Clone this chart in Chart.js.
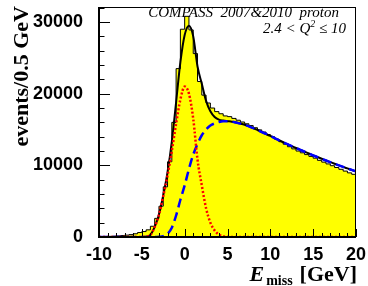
<!DOCTYPE html>
<html>
<head>
<meta charset="utf-8">
<script src="https://cdn.jsdelivr.net/npm/chart.js@4.4.1/dist/chart.umd.min.js"></script>
<style>
html, body { margin: 0; padding: 0; background: #fff; }
#wrap { width: 368px; height: 286px; }
</style>
</head>
<body>
<div id="wrap"><canvas id="c" width="368" height="286"></canvas></div>
<script>
// E_miss grid (GeV): bin edges of the histogram and sample points of the fit curves
const eGrid = [-10, -9.5, -9, -8.5, -8, -7.5, -7, -6.5, -6, -5.5, -5, -4.5, -4, -3.5, -3, -2.5, -2, -1.5, -1, -0.5,
    0, 0.5, 1, 1.5, 2, 2.5, 3, 3.5, 4, 4.5, 5, 5.5, 6, 6.5, 7, 7.5, 8, 8.5, 9, 9.5,
    10, 10.5, 11, 11.5, 12, 12.5, 13, 13.5, 14, 14.5, 15, 15.5, 16, 16.5, 17, 17.5, 18, 18.5, 19, 19.5, 20];

// events per 0.5 GeV bin (60 bins, -10 .. 20)
const histCounts = [
    60, 80, 90, 110, 150, 200, 260, 330, 450, 620,
    760, 1000, 1500, 2600, 4300, 7000, 10500, 16000, 23500, 29000,
    30800, 28900, 25600, 21700, 19800, 18700, 18000, 17500, 17200, 16900,
    16800, 16550, 16300, 16050, 15800, 15550, 15250, 14950, 14650, 14300,
    14000, 13650, 13300, 12950, 12600, 12300, 12000, 11750, 11500, 11250,
    11000, 10700, 10450, 10200, 9950, 9700, 9450, 9200, 8950, 8750
];

// exclusive peak (red dotted)
const signalFit = [
    0, 0, 0, 0, 0, 0, 0, 0, 0, 0, 0,
    50, 300, 1400, 3100, 5700, 8600, 12000, 15800, 19200,
    21000, 20000, 16500, 10800, 7200, 4000, 2000, 900, 330, 100, 20,
    0, 0, 0, 0, 0, 0, 0, 0, 0, 0, 0, 0, 0, 0, 0, 0, 0, 0, 0, 0, 0, 0, 0, 0, 0, 0, 0, 0, 0, 0
];

// non-exclusive background (blue dashed)
const bgFit = [
    0, 0, 0, 0, 0, 0, 0, 0, 0, 0, 0, 0, 0, 0,
    30, 120, 450, 1300, 3000, 5200, 7200, 9500, 11500, 13000, 14200, 15000, 15550, 15850, 16050, 16150,
    16150, 16100, 15980, 15830, 15660, 15440, 15200, 14930, 14650, 14380, 14100, 13800, 13500, 13220,
    12950, 12680, 12420, 12160, 11900, 11650, 11400, 11160, 10920, 10680, 10450, 10220, 10000, 9780,
    9570, 9360, 9150
];

// total fit (black)
const totalFit = [
    0, 0, 0, 0, 0, 0, 0, 0, 0, 0, 0,
    50, 300, 1400, 3130, 5820, 9050, 13300, 18800, 24400,
    28200, 29500, 28000, 23800, 21400, 19000, 17550, 16750, 16380, 16250, 16170,
    16100, 15980, 15830, 15660, 15440, 15200, 14930, 14650, 14380, 14100, 13800, 13500, 13220,
    12950, 12680, 12420, 12160, 11900, 11650, 11400, 11160, 10920, 10680, 10450, 10220, 10000, 9780,
    9570, 9360, 9150
];

const yTicks = [0, 10000, 20000, 30000];
const xTicks = [-10, -5, 0, 5, 10, 15, 20];

function pts(values) {
    return eGrid.map(function (e, i) { return { x: e, y: values[i] }; });
}

const histData = histCounts.map(function (v, i) { return { x: eGrid[i], y: v }; });
histData.push({ x: eGrid[eGrid.length - 1], y: histCounts[histCounts.length - 1] });

const tickFont = { family: 'Liberation Sans', size: 18, weight: 'bold' };

const rootFrame = {
    id: 'rootFrame',
    afterDraw: function (chart) {
        const ctx = chart.ctx;
        const a = chart.chartArea;
        const xs = chart.scales.x, ys = chart.scales.y;
        ctx.save();
        ctx.strokeStyle = '#000';

        // frame
        ctx.lineWidth = 1;
        ctx.strokeRect(a.left + 0.5, a.top + 0.5, a.right - a.left - 1, a.bottom - a.top);
        ctx.lineWidth = 2;
        ctx.beginPath();
        ctx.moveTo(a.left, a.top); ctx.lineTo(a.left, a.bottom); ctx.lineTo(a.right, a.bottom);
        ctx.stroke();

        // inward ticks
        ctx.lineWidth = 1;
        ctx.beginPath();
        for (let v = 0; v <= ys.max; v += 2000) {
            const y = Math.round(ys.getPixelForValue(v)) + 0.5;
            const len = v % 10000 === 0 ? 11 : 5.5;
            ctx.moveTo(a.left, y); ctx.lineTo(a.left + len, y);
        }
        for (let v = xs.min; v <= xs.max; v += 1) {
            const x = Math.round(xs.getPixelForValue(v)) + 0.5;
            const len = v % 5 === 0 ? 8 : 4;
            ctx.moveTo(x, a.bottom); ctx.lineTo(x, a.bottom - len);
        }
        ctx.stroke();

        ctx.fillStyle = '#000';
        ctx.textBaseline = 'alphabetic';

        // y title
        ctx.save();
        ctx.translate(28, 6);
        ctx.rotate(-Math.PI / 2);
        ctx.textAlign = 'right';
        ctx.font = 'bold 22px "Liberation Serif"';
        ctx.fillText('events/0.5 GeV', 0, 0);
        ctx.restore();

        // x title: E_miss [GeV]
        ctx.textAlign = 'left';
        ctx.font = 'bold 22px "Liberation Serif"';
        const gev = '[GeV]';
        const gevX = 357 - ctx.measureText(gev).width;
        ctx.fillText(gev, gevX, 281);
        ctx.font = 'bold 14px "Liberation Serif"';
        const missX = gevX - 7 - ctx.measureText('miss').width;
        ctx.fillText('miss', missX, 285);
        ctx.font = 'italic bold 22px "Liberation Serif"';
        ctx.fillText('E', missX - 2 - ctx.measureText('E').width, 281);

        // legend text top right
        ctx.font = 'italic 15px "Liberation Serif"';
        ctx.textAlign = 'right';
        ctx.fillText('COMPASS  2007&2010  proton', 339, 17);
        ctx.textAlign = 'left';
        const p1 = ' \u2264 10', p0 = '2.4 < ';
        const w1 = ctx.measureText(p1).width;
        const wq = ctx.measureText('Q').width;
        ctx.font = 'italic 10px "Liberation Serif"';
        const w2 = ctx.measureText('2').width;
        let x = 346 - w1;
        ctx.fillText('2', x - w2, 27);
        ctx.font = 'italic 15px "Liberation Serif"';
        ctx.fillText(p1, x, 33);
        x -= w2 + wq;
        ctx.fillText('Q', x, 33);
        ctx.fillText(p0, x - ctx.measureText(p0).width, 33);

        ctx.restore();
    }
};

new Chart(document.getElementById('c'), {
    type: 'line',
    data: {
        datasets: [
            { label: 'signal', data: pts(signalFit), borderColor: '#ff0000', borderWidth: 2.5, borderDash: [2, 2],
              pointRadius: 0, cubicInterpolationMode: 'monotone', fill: false, order: 1 },
            { label: 'background', data: pts(bgFit), borderColor: '#0000ff', borderWidth: 2.5, borderDash: [9, 5],
              pointRadius: 0, cubicInterpolationMode: 'monotone', fill: false, order: 2 },
            { label: 'total', data: pts(totalFit), borderColor: '#000000', borderWidth: 2,
              pointRadius: 0, cubicInterpolationMode: 'monotone', fill: false, order: 3 },
            { label: 'data', data: histData, stepped: 'before', borderColor: '#000000', borderWidth: 1,
              backgroundColor: '#ffff00', fill: 'origin', pointRadius: 0, order: 4 }
        ]
    },
    options: {
        responsive: false,
        animation: false,
        devicePixelRatio: 1,
        layout: { padding: { top: 7, right: 12, left: 0, bottom: 0 } },
        plugins: { legend: { display: false }, tooltip: { enabled: false } },
        scales: {
            x: {
                type: 'linear', min: -10, max: 20,
                afterFit: function (s) { s.height = 49; s.paddingLeft = 0; s.paddingRight = 0; },
                afterBuildTicks: function (s) { s.ticks = xTicks.map(function (v) { return { value: v }; }); },
                grid: { display: false }, border: { display: false },
                ticks: { autoSkip: false, maxRotation: 0, padding: -1, color: '#000', font: tickFont,
                         callback: function (v) { return String(v); } }
            },
            y: {
                type: 'linear', min: 0, max: 32100,
                afterFit: function (s) { s.width = 99; s.paddingTop = 0; s.paddingBottom = 0; },
                afterBuildTicks: function (s) { s.ticks = yTicks.map(function (v) { return { value: v }; }); },
                grid: { display: false }, border: { display: false },
                ticks: { padding: 8, color: '#000', font: tickFont,
                         callback: function (v) { return String(v); } }
            }
        }
    },
    plugins: [rootFrame]
});
</script>
</body>
</html>
